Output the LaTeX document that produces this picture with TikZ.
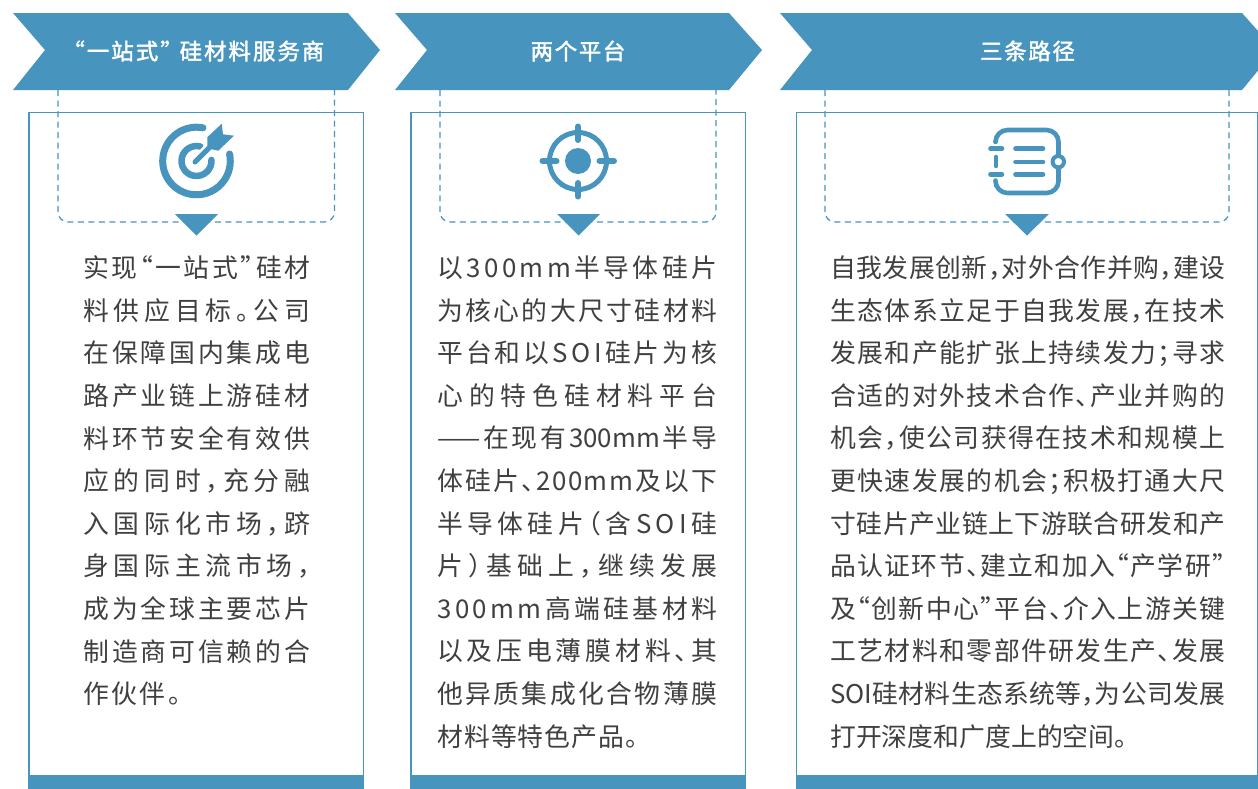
\documentclass[tikz,border=0pt]{standalone}
\usepackage{fontspec}
\setmainfont{Noto Sans CJK SC}[RawFeature=+halt]
\definecolor{sblue}{HTML}{4795BE}
\definecolor{txt}{HTML}{404040}
\newlength\jw
\makeatletter
% one justified line: the slack is shared out between all its characters
\def\jl#1{\hbox to \jw{\@jfirsttrue\@tfor\@jc:=#1\do{\if@jfirst\@jfirstfalse\else\hfil\fi\@jc}}}
\newif\if@jfirst
\makeatother
\def\ll#1#2{{\setlength\jw{#1}\jl{#2}}}
\def\hvy#1{\special{pdf:code 2 Tr 0.32 w 1 1 1 RG}#1\special{pdf:code 0 Tr}}
\tikzset{
  banner/.style={fill=sblue,draw=none},
  panel/.style={draw=sblue,line width=1.5*.75pt,fill=white},
  footbar/.style={fill=sblue,draw=none},
  guide/.style={draw=sblue,line width=1.2*.75pt,dash pattern=on 4.5pt off 3.4pt,rounded corners=7.5pt},
  pointer/.style={fill=sblue,draw=none},
  headtext/.style={text=white,font=\fontsize{16.8pt}{20pt}\selectfont,inner sep=0pt,anchor=center},
  bodytext/.style={text=txt,inner sep=0pt,anchor=north west,font=\fontsize{19.35pt}{31.95pt}\selectfont,align=left},
  iconline/.style={draw=sblue,line cap=round,line join=round},
}
\begin{document}
\begin{tikzpicture}[x=.75pt,y=.75pt]
\useasboundingbox (0,-789) rectangle (1258,0);
\fill[white] (0,-789) rectangle (1258,0);
% panels
\draw[panel] (29,-112.5) rectangle (363.5,-795);
\draw[panel] (411,-112.5) rectangle (745.5,-795);
\draw[panel] (796.5,-112.5) rectangle (1257.3,-795);
\fill[footbar] (28.5,-775) rectangle (364,-789);
\fill[footbar] (410.5,-775) rectangle (746,-789);
\fill[footbar] (796,-775) rectangle (1258,-789);
% dashed guides
\draw[guide] (58,-90) -- (58,-222) -- (334.5,-222) -- (334.5,-90);
\draw[guide] (440,-90) -- (440,-222) -- (716,-222) -- (716,-90);
\draw[guide] (825,-90) -- (825,-222) -- (1229,-222) -- (1229,-90);
% banners
\fill[banner] (13,-13) -- (348,-13) -- (380,-50) -- (348,-90) -- (13,-90) -- (45,-50) -- cycle;
\fill[banner] (395,-13) -- (729,-13) -- (762,-50) -- (729,-90) -- (395,-90) -- (427,-50) -- cycle;
\fill[banner] (780,-13) -- (1242,-13) -- (1275,-50) -- (1242,-90) -- (780,-90) -- (812,-50) -- cycle;
\node[headtext] (h1) at (199,-51) {\setlength\jw{188pt}\hvy{\jl{“一站式”{\hskip 3pt}硅材料服务商}}};
\node[headtext] (h2) at (578,-51) {\setlength\jw{71pt}\hvy{\jl{两个平台}}};
\node[headtext] (h3) at (1027.5,-51) {\setlength\jw{71pt}\hvy{\jl{三条路径}}};
% pointers
\fill[pointer] (175,-214) -- (218,-214) -- (196.5,-235.5) -- cycle;
\fill[pointer] (557,-214) -- (600,-214) -- (578.5,-235.5) -- cycle;
\fill[pointer] (1005,-214) -- (1049,-214) -- (1027,-235.5) -- cycle;
% target icon
\draw[iconline,line width=7*.75pt] (196.5,-161) ++(79:33.8) arc[start angle=79,end angle=372,radius=33.8];
\draw[iconline,line width=6.5*.75pt] (196.5,-161) ++(76:15) arc[start angle=76,end angle=364,radius=15];
\draw[draw=white,line width=10*.75pt] (197,-160) -- (212,-145);
\draw[iconline,line width=5*.75pt] (195,-162) -- (212,-145);
\fill[sblue] (207.3,-137.3) -- (221.7,-123.7) -- (223,-134.3) -- (234,-135.7) -- (218.3,-150.7) -- (207.3,-148.3) -- cycle;
% crosshair icon
\draw[sblue,line width=5*.75pt] (578,-161) circle[radius=28.5];
\fill[sblue] (578,-161) circle[radius=13];
\draw[iconline,line width=6*.75pt] (578,-126.5) -- (578,-140);
\draw[iconline,line width=6*.75pt] (578,-183) -- (578,-196.5);
\draw[iconline,line width=6*.75pt] (542.5,-161) -- (556.5,-161);
\draw[iconline,line width=6*.75pt] (599.5,-161) -- (614,-161);
% notebook icon
\draw[iconline,line width=4.6*.75pt] (995.5,-141) -- (995.5,-142) arc[start angle=180,end angle=90,radius=12] -- (1046.5,-130) arc[start angle=90,end angle=0,radius=12] -- (1058.5,-181) arc[start angle=0,end angle=-90,radius=12] -- (1007.5,-193) arc[start angle=-90,end angle=-180,radius=12] -- (995.5,-180.5);
\draw[iconline,line width=4.6*.75pt] (996,-157) -- (996,-166);
\draw[iconline,line width=4.6*.75pt] (990.5,-148.7) -- (1002,-148.7);
\draw[iconline,line width=4.6*.75pt] (990.5,-174.3) -- (1002,-174.3);
\draw[iconline,line width=4.6*.75pt] (1015.5,-148.7) -- (1043,-148.7);
\draw[iconline,line width=4.6*.75pt] (1015.5,-162) -- (1043,-162);
\draw[iconline,line width=4.6*.75pt] (1015.5,-174.3) -- (1043,-174.3);
\draw[draw=sblue,fill=white,line width=4*.75pt] (1058.3,-161.7) circle[radius=5.7];
% body text
\node[bodytext,text width=170.25pt] (t1) at (83,-255.5) {\setlength\jw{170.25pt}%
\jl{实现“一站式”硅材}
\jl{料供应目标。公司}
\jl{在保障国内集成电}
\jl{路产业链上游硅材}
\jl{料环节安全有效供}
\jl{应的同时，充分融}
\jl{入国际化市场，跻}
\jl{身国际主流市场，}
\jl{成为全球主要芯片}
\jl{制造商可信赖的合}
\ll{73.5pt}{作伙伴。}};
\node[bodytext,text width=210pt] (t2) at (437,-255.5) {\setlength\jw{210pt}%
\jl{以300mm半导体硅片}
\jl{为核心的大尺寸硅材料}
\jl{平台和以{S\kern2.8pt O\kern2.8pt I}硅片为核}
\jl{心的特色硅材料平台}
\jl{{——}在现有{300mm}半导}
\jl{体硅片、{2\kern1.2pt 0\kern1.2pt 0\kern1.2pt m\kern1.2pt m}及以下}
\jl{半导体硅片（含SOI硅}
\jl{片）基础上，继续发展}
\jl{300mm高端硅基材料}
\jl{以及压电薄膜材料、其}
\jl{他异质集成化合物薄膜}
\ll{150.75pt}{材料等特色产品。}};
\node[bodytext,text width=296.25pt] (t3) at (830,-255.5) {\setlength\jw{296.25pt}%
\jl{自我发展创新，对外合作并购，建设}
\jl{生态体系立足于自我发展，在技术}
\jl{发展和产能扩张上持续发力；寻求}
\jl{合适的对外技术合作、产业并购的}
\jl{机会，使公司获得在技术和规模上}
\jl{更快速发展的机会；积极打通大尺}
\jl{寸硅片产业链上下游联合研发和产}
\jl{品认证环节、建立和加入“产学研”}
\jl{及“创新中心”平台、介入上游关键}
\jl{工艺材料和零部件研发生产、发展}
\jl{{SOI}硅材料生态系统等，为公司发展}
\ll{223pt}{打开深度和广度上的空间。}};
\end{tikzpicture}
\end{document}
